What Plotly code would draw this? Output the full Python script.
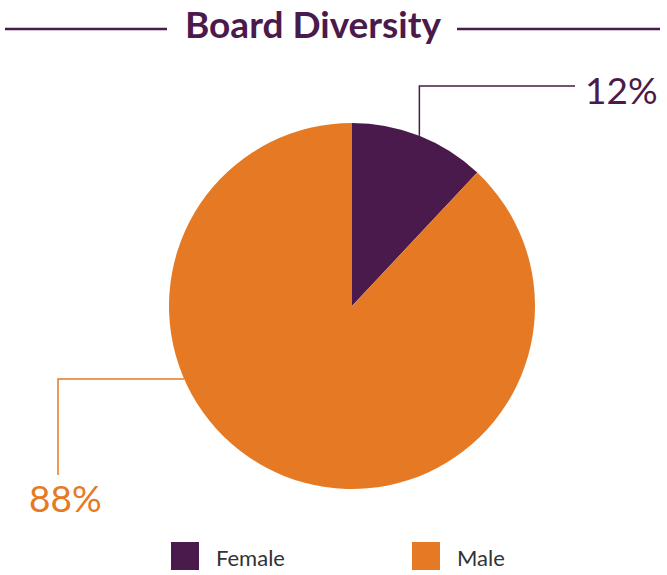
import math
import plotly.graph_objects as go

labels = ["Female", "Male"]
values = [12, 88]
colors = ["#4B1A4C", "#E67A24"]
title_text = "Board Diversity"

W, H = 667, 575
cx, cy, r = 352, 306, 183  # pie centre and radius in px

def px(x):
    return x / W

def py(y):
    return 1 - y / H

fig = go.Figure()
fig.add_trace(go.Pie(
    labels=labels, values=values, sort=False, direction="clockwise", rotation=0,
    marker=dict(colors=colors, line=dict(width=0)),
    textinfo="none", hoverinfo="label+percent", showlegend=False,
    domain=dict(x=[px(cx - r), px(cx + r)], y=[py(cy + r), py(cy - r)]),
))

shapes = []
annotations = []

# Title with side rules
annotations.append(dict(text=f"<b>{title_text}</b>", x=px(313), y=py(23), xref="paper", yref="paper",
                        showarrow=False, font=dict(family="Lato", size=37, color=colors[0]),
                        xanchor="center", yanchor="middle"))
shapes.append(dict(type="line", xref="paper", yref="paper", x0=px(5), x1=px(167), y0=py(29), y1=py(29),
                   line=dict(color=colors[0], width=2.5)))
shapes.append(dict(type="line", xref="paper", yref="paper", x0=px(457), x1=px(660), y0=py(29), y1=py(29),
                   line=dict(color=colors[0], width=2.5)))

total = sum(values)
pct = [round(100 * v / total) for v in values]

# Female leader from slice mid-angle
mid = values[0] / total / 2 * 2 * math.pi
ex = cx + r * math.sin(mid)
ey = cy - r * math.cos(mid)
shapes.append(dict(type="path", xref="paper", yref="paper",
                   path=f"M{px(ex)},{py(ey)} L{px(ex)},{py(86)} L{px(575)},{py(86)}",
                   line=dict(color=colors[0], width=1.5)))
annotations.append(dict(text=f"{pct[0]}%", x=px(621), y=py(89), xref="paper", yref="paper",
                        showarrow=False, font=dict(family="Lato", size=37, color=colors[0]),
                        xanchor="center", yanchor="middle"))

# Male leader
ly = 379
lx = cx - math.sqrt(r * r - (ly - cy) ** 2)
shapes.append(dict(type="path", xref="paper", yref="paper",
                   path=f"M{px(lx)},{py(ly)} L{px(58)},{py(ly)} L{px(58)},{py(475)}",
                   line=dict(color=colors[1], width=1.5)))
annotations.append(dict(text=f"{pct[1]}%", x=px(65), y=py(497), xref="paper", yref="paper",
                        showarrow=False, font=dict(family="Lato", size=37, color=colors[1]),
                        xanchor="center", yanchor="middle"))

# Custom legend
leg_x = [171, 412]
for i, lab in enumerate(labels):
    x0 = leg_x[i]
    shapes.append(dict(type="rect", xref="paper", yref="paper", x0=px(x0), x1=px(x0 + 28),
                       y0=py(570), y1=py(542), fillcolor=colors[i], line=dict(width=0)))
    annotations.append(dict(text=lab, x=px(x0 + 43), y=py(557), xref="paper", yref="paper",
                            showarrow=False, font=dict(family="Lato", size=22, color="#333333"),
                            xanchor="left", yanchor="middle"))

fig.update_layout(width=W, height=H, margin=dict(l=0, r=0, t=0, b=0),
                  paper_bgcolor="white", plot_bgcolor="white",
                  shapes=shapes, annotations=annotations)

fig.write_html("out.html", config={"displayModeBar": False},
               post_script="document.body.style.margin='0px';")
